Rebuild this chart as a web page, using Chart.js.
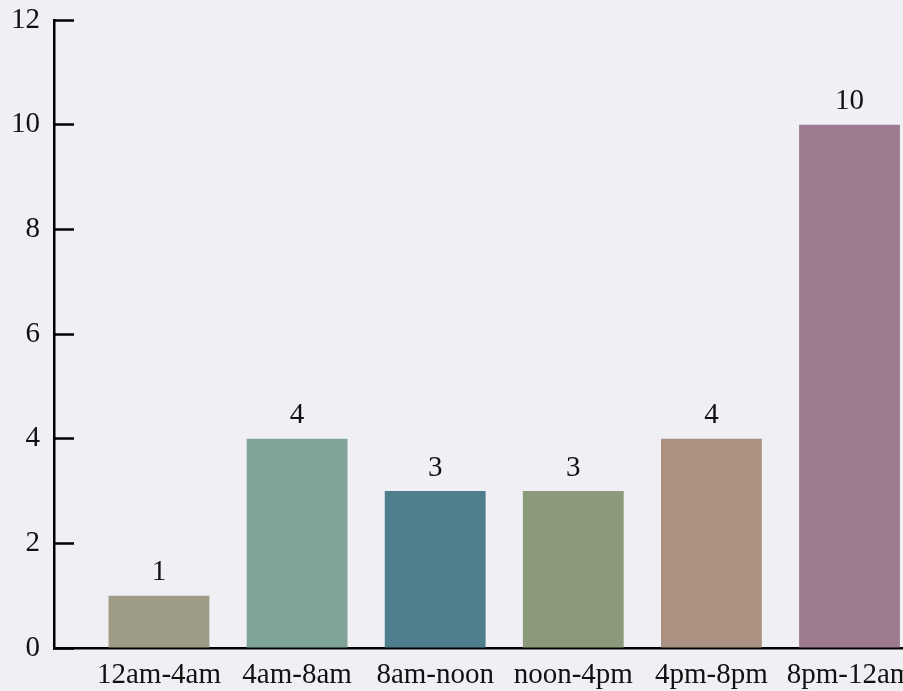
<!DOCTYPE html>
<html>
<head>
<meta charset="utf-8">
<script src="https://cdn.jsdelivr.net/npm/chart.js@4.4.1/dist/chart.umd.min.js"></script>
<style>
  html, body { margin: 0; padding: 0; background: #f0eff4; overflow: hidden; }
  #wrap { width: 903px; height: 691px; overflow: hidden; }
</style>
</head>
<body>
<div id="wrap"><canvas id="grafico" width="960" height="691"></canvas></div>
<script>
const franjas = ['12am-4am', '4am-8am', '8am-noon', 'noon-4pm', '4pm-8pm', '8pm-12am'];
const cantidades = [1, 4, 3, 3, 4, 10];
const colores = ['#9e9b86', '#80a397', '#4f7f8d', '#8a9a7b', '#ab9181', '#9c7b91'];
const marcasY = [0, 2, 4, 6, 8, 10, 12];

const fuente = { family: "'Liberation Serif', 'DejaVu Serif', serif", size: 29 };

// numbers above each bar
const etiquetas = {
  id: 'etiquetas',
  afterDatasetsDraw(chart) {
    const ctx = chart.ctx;
    const meta = chart.getDatasetMeta(0);
    ctx.save();
    ctx.font = fuente.size + 'px ' + fuente.family;
    ctx.fillStyle = '#111';
    ctx.textAlign = 'center';
    ctx.textBaseline = 'middle';
    meta.data.forEach((bar, i) => {
      ctx.fillText(String(cantidades[i]), bar.x, bar.y - 23);
    });
    ctx.restore();
  }
};

window.addEventListener('DOMContentLoaded', () => {
  const ctx = document.getElementById('grafico').getContext('2d');

  new Chart(ctx, {
    type: 'bar',
    data: {
      datasets: [{
        data: cantidades.map((v, i) => ({ x: i, y: v })),
        backgroundColor: colores,
        borderWidth: 0,
        categoryPercentage: 1,
        barPercentage: 0.73
      }]
    },
    options: {
      responsive: false,
      animation: false,
      layout: { padding: { top: 20, right: 0, bottom: 0, left: 0 } },
      plugins: {
        legend: { display: false },
        tooltip: { enabled: false }
      },
      scales: {
        x: {
          type: 'linear',
          offset: false,
          min: -0.76,
          max: 5.8,
          grid: { display: false, drawTicks: false, offset: false },
          border: { display: true, color: '#000', width: 2.5 },
          afterFit(scale) { scale.height = 43; },
          afterBuildTicks(scale) {
            scale.ticks = franjas.map((_, i) => ({ value: i }));
          },
          ticks: {
            autoSkip: false,
            maxRotation: 0,
            padding: 10,
            color: '#111',
            font: fuente,
            callback: (v) => franjas[v]
          }
        },
        y: {
          min: 0,
          max: 12,
          afterFit(scale) {
            scale.width = 54;
            scale.paddingTop = 0;
            scale.paddingBottom = 0;
          },
          afterBuildTicks(scale) {
            scale.ticks = marcasY.map(v => ({ value: v }));
          },
          grid: {
            drawOnChartArea: false,
            tickLength: -20,
            tickWidth: 2.5,
            tickColor: '#000'
          },
          border: { display: true, color: '#000', width: 2.5 },
          ticks: {
            padding: 34,
            color: '#111',
            font: fuente
          }
        }
      }
    },
    plugins: [etiquetas]
  });
});
</script>
</body>
</html>
